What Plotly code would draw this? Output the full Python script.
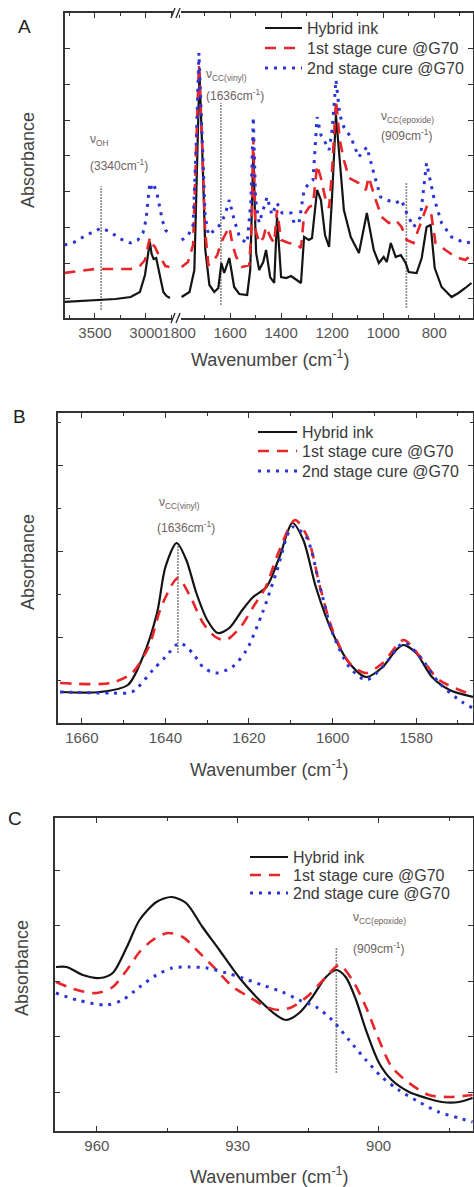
import plotly.graph_objects as go

W, H = 474, 1187

# ---------------- Panel A (full FTIR spectrum, broken x axis) ----------------
A_left_wn_black = [3800, 3650, 3500, 3300, 3150, 3060, 3010, 2985, 2962, 2945, 2925, 2900, 2880, 2860, 2830, 2800, 2765]
A_left_abs_black = [0.16, 0.17, 0.18, 0.19, 0.21, 0.26, 0.43, 0.63, 0.76, 0.64, 0.59, 0.60, 0.50, 0.38, 0.26, 0.22, 0.20]
A_left_wn_red = [3800, 3650, 3500, 3300, 3150, 3060, 3010, 2985, 2962, 2940, 2912, 2880, 2843, 2810, 2770]
A_left_abs_red = [0.45, 0.47, 0.49, 0.49, 0.49, 0.52, 0.58, 0.70, 0.80, 0.74, 0.71, 0.64, 0.58, 0.52, 0.51]
A_left_wn_blue = [3800, 3700, 3600, 3500, 3440, 3350, 3250, 3150, 3080, 3030, 3000, 2980, 2962, 2940, 2920, 2895, 2870, 2840, 2810, 2770]
A_left_abs_blue = [0.73, 0.76, 0.82, 0.87, 0.90, 0.86, 0.79, 0.75, 0.78, 0.85, 0.98, 1.18, 1.35, 1.28, 1.32, 1.26, 1.13, 0.98, 0.88, 0.84]

A_right_wn_black = [1790, 1759, 1740, 1728, 1720, 1709, 1697, 1681, 1662, 1646, 1634, 1623, 1603, 1584, 1564, 1533,
                    1521, 1509, 1498, 1486, 1470, 1459, 1443, 1427, 1416, 1400, 1380, 1361, 1341, 1322, 1310, 1291,
                    1279, 1259, 1244, 1228, 1212, 1201, 1185, 1170, 1154, 1127, 1095, 1064, 1037, 1017, 998, 986,
                    970, 951, 931, 912, 900, 869, 849, 830, 814, 798, 771, 732, 705, 678, 654]
A_right_abs_black = [0.21, 0.26, 0.48, 1.68, 2.46, 1.68, 0.68, 0.33, 0.26, 0.30, 0.55, 0.45, 0.60, 0.31, 0.24, 0.23,
                     0.48, 1.63, 0.65, 0.48, 0.56, 0.68, 0.41, 0.35, 1.01, 0.41, 0.40, 0.42, 0.38, 0.35, 0.81, 0.78,
                     0.80, 1.28, 1.18, 0.83, 0.71, 1.18, 2.03, 1.58, 1.08, 0.81, 0.65, 1.05, 0.68, 0.55, 0.61, 0.56,
                     0.75, 0.61, 0.63, 0.55, 0.46, 0.45, 0.60, 0.91, 0.93, 0.50, 0.31, 0.21, 0.25, 0.30, 0.35]
A_right_wn_red = [1790, 1765, 1745, 1732, 1722, 1710, 1698, 1685, 1670, 1650, 1636, 1620, 1603, 1590, 1576, 1552,
                  1525, 1516, 1509, 1500, 1486, 1470, 1459, 1440, 1427, 1416, 1400, 1370, 1340, 1322, 1310, 1290,
                  1275, 1259, 1244, 1228, 1212, 1200, 1185, 1170, 1154, 1134, 1096, 1068, 1057, 1029, 1006, 978,
                  951, 928, 908, 881, 854, 830, 814, 795, 756, 717, 678, 654]
A_right_abs_red = [0.51, 0.56, 0.73, 1.68, 2.54, 1.78, 0.88, 0.53, 0.55, 0.63, 0.75, 0.83, 0.91, 0.73, 0.61, 0.51,
                   0.53, 0.88, 1.81, 0.88, 0.75, 0.80, 0.91, 0.80, 0.75, 1.08, 0.78, 0.75, 0.74, 0.70, 1.03, 1.11,
                   1.13, 1.53, 1.40, 1.21, 1.10, 1.48, 2.18, 1.78, 1.58, 1.40, 1.35, 1.28, 1.41, 1.18, 1.01, 0.95,
                   0.98, 0.91, 0.78, 0.75, 0.95, 1.11, 1.08, 0.75, 0.68, 0.61, 0.58, 0.63]
A_right_wn_blue = [1790, 1765, 1745, 1732, 1722, 1710, 1698, 1685, 1674, 1650, 1636, 1620, 1603, 1584, 1565, 1552,
                   1533, 1518, 1509, 1500, 1486, 1470, 1455, 1436, 1416, 1396, 1361, 1349, 1330, 1310, 1290, 1275,
                   1259, 1244, 1232, 1212, 1200, 1185, 1170, 1154, 1127, 1096, 1064, 1037, 1010, 986, 951, 928,
                   908, 881, 854, 830, 802, 771, 732, 678, 654]
A_right_abs_blue = [0.78, 0.82, 0.93, 1.78, 2.65, 1.88, 1.03, 0.83, 0.85, 0.90, 0.95, 1.03, 1.18, 0.98, 0.83, 0.78,
                    0.75, 1.18, 2.01, 1.18, 0.95, 1.08, 1.21, 1.03, 1.15, 1.05, 1.05, 0.95, 0.95, 1.28, 1.35, 1.38,
                    2.01, 1.83, 1.78, 1.68, 1.88, 2.38, 2.03, 1.91, 1.81, 1.61, 1.71, 1.45, 1.21, 1.18, 1.15, 1.18,
                    1.05, 0.91, 1.01, 1.55, 1.21, 0.95, 0.81, 0.75, 0.76]

A_marker_wn = [3440, 1636, 909]
A_marker_lo = [0.08, 0.13, 0.10]
A_marker_hi = [1.32, 2.15, 1.35]

# ---------------- Panel B (1665-1566 cm-1) ----------------
B_wn_black = [1665.2, 1655.7, 1649, 1645.4, 1642, 1640, 1637.3, 1635, 1632.6, 1630, 1627.5, 1624.7, 1621.6, 1619,
              1615.8, 1612.7, 1609.6, 1607, 1604, 1600, 1596, 1592, 1588, 1584.8, 1583, 1580, 1576.2, 1572, 1566.4]
B_abs_black = [0.31, 0.31, 0.38, 0.66, 1.10, 1.56, 1.80, 1.63, 1.30, 1.03, 0.90, 0.95, 1.13, 1.26,
               1.36, 1.66, 2.00, 1.83, 1.36, 0.90, 0.60, 0.46, 0.56, 0.73, 0.78, 0.70, 0.46, 0.33, 0.26]
B_wn_red = [1665.2, 1653, 1648, 1644, 1641, 1637, 1634, 1631, 1628, 1625.5, 1622, 1619, 1616, 1613, 1609, 1606,
            1603, 1600, 1596, 1592, 1588, 1583, 1579, 1574.5, 1566.4]
B_abs_red = [0.40, 0.40, 0.50, 0.76, 1.16, 1.45, 1.26, 1.00, 0.86, 0.83, 0.96, 1.16, 1.36, 1.70, 2.03, 1.86,
             1.36, 0.93, 0.60, 0.50, 0.60, 0.83, 0.66, 0.43, 0.28]
B_wn_blue = [1665.2, 1653, 1648, 1643, 1640, 1636.6, 1633.5, 1631, 1628, 1624, 1620.6, 1616.8, 1613.5, 1609.6,
             1606.3, 1603, 1600, 1596, 1592, 1588, 1583, 1579, 1574.5, 1569, 1566.4]
B_abs_blue = [0.31, 0.30, 0.31, 0.53, 0.66, 0.80, 0.70, 0.56, 0.50, 0.56, 0.73, 1.10, 1.50, 1.96,
              1.86, 1.36, 0.90, 0.56, 0.43, 0.56, 0.80, 0.66, 0.40, 0.21, 0.15]
B_marker_wn = [1637]
B_marker_lo = [0.70]
B_marker_hi = [1.80]

# ---------------- Panel C (969-880 cm-1) ----------------
C_wn_black = [968.7, 966.4, 963, 959.4, 956.6, 953.6, 950.9, 947.3, 944.1, 941, 937.5, 933.9, 929.6, 925.4, 921.8,
              919.7, 916.9, 914.1, 911.2, 909, 907, 904.8, 902.7, 899.9, 897.2, 893.5, 889.9, 886.5, 882.9, 880]
C_abs_black = [1.64, 1.64, 1.56, 1.53, 1.58, 1.84, 2.11, 2.29, 2.34, 2.28, 2.04, 1.81, 1.53, 1.31, 1.16,
               1.11, 1.18, 1.34, 1.54, 1.61, 1.54, 1.31, 1.01, 0.68, 0.51, 0.39, 0.33, 0.29, 0.29, 0.33]
C_wn_red = [968.7, 964.2, 960, 956.6, 953.6, 950.9, 948.1, 944.9, 941.7, 938.1, 934.5, 931, 927.5, 923.9, 921.1,
            918.4, 914.8, 911.2, 908.4, 905.6, 902.7, 899.9, 897.2, 893.5, 889.3, 885, 880]
C_abs_red = [1.49, 1.41, 1.38, 1.44, 1.61, 1.79, 1.91, 1.98, 1.94, 1.78, 1.61, 1.44, 1.34, 1.24, 1.21,
             1.24, 1.36, 1.54, 1.66, 1.51, 1.24, 0.91, 0.64, 0.48, 0.36, 0.34, 0.36]
C_wn_blue = [968.7, 964.2, 957.9, 954.5, 950.9, 947.3, 943.9, 940.3, 936.6, 932.4, 929, 924.8, 920.5, 916.9, 913.3,
             909.9, 906.3, 902.7, 899.3, 895.7, 891.4, 887.2, 882.9, 880]
C_abs_blue = [1.38, 1.31, 1.26, 1.31, 1.44, 1.56, 1.63, 1.64, 1.63, 1.58, 1.53, 1.46, 1.39, 1.31, 1.24,
              1.11, 0.91, 0.71, 0.54, 0.41, 0.29, 0.19, 0.13, 0.09]
C_marker_wn = [909]
C_marker_lo = [0.58]
C_marker_hi = [1.83]

series_names = ["Hybrid ink", "1st stage cure @G70", "2nd stage cure @G70"]
A_xticks_left = [3500, 3000]

# ---------------- styles ----------------
FONT = "Liberation Sans, Arial, sans-serif"
BLACK = "#141414"
RED = "#e8262a"
BLUE = "#2b35d6"
GRAY = "#8a8a8a"
LABEL = "#6e6262"
styles = [dict(color=BLACK, width=2.2),
          dict(color=RED, width=2.6, dash="11px,8px"),
          dict(color=BLUE, width=3.0, dash="3px,6px")]


def px(x):
    return x / W


def py(y):
    return 1 - y / H


fig = go.Figure()


def add_series(xs, ys, xa, ya, i, shape="linear"):
    ln = dict(styles[i])
    ln["shape"] = shape
    if shape == "spline":
        ln["smoothing"] = 0.8
    fig.add_trace(go.Scatter(x=xs, y=ys, mode="lines", line=ln, name=series_names[i],
                             xaxis=xa, yaxis=ya, showlegend=False, hoverinfo="skip"))


def add_markers(wns, los, his, xa, ya):
    for w, lo, hi in zip(wns, los, his):
        fig.add_trace(go.Scatter(x=[w, w], y=[lo, hi], mode="lines",
                                 line=dict(color=GRAY, width=1.6, dash="2px,1px"),
                                 xaxis=xa, yaxis=ya, showlegend=False, hoverinfo="skip"))


# Panel A
add_markers(A_marker_wn[:1], A_marker_lo[:1], A_marker_hi[:1], "x", "y")
add_markers(A_marker_wn[1:], A_marker_lo[1:], A_marker_hi[1:], "x2", "y2")
for i, (xs, ys) in enumerate([(A_left_wn_black, A_left_abs_black), (A_left_wn_red, A_left_abs_red),
                              (A_left_wn_blue, A_left_abs_blue)]):
    add_series(xs, ys, "x", "y", i)
for i, (xs, ys) in enumerate([(A_right_wn_black, A_right_abs_black), (A_right_wn_red, A_right_abs_red),
                              (A_right_wn_blue, A_right_abs_blue)]):
    add_series(xs, ys, "x2", "y2", i)

# Panel B
add_markers(B_marker_wn, B_marker_lo, B_marker_hi, "x3", "y3")
for i, (xs, ys) in enumerate([(B_wn_black, B_abs_black), (B_wn_red, B_abs_red), (B_wn_blue, B_abs_blue)]):
    add_series(xs, ys, "x3", "y3", i, "spline")

# Panel C
add_markers(C_marker_wn, C_marker_lo, C_marker_hi, "x4", "y4")
for i, (xs, ys) in enumerate([(C_wn_black, C_abs_black), (C_wn_red, C_abs_red), (C_wn_blue, C_abs_blue)]):
    add_series(xs, ys, "x4", "y4", i, "spline")

tickfont = dict(family=FONT, size=15, color="#555555")
axline = dict(showline=True, linecolor="#333333", linewidth=1.6, showgrid=False, zeroline=False,
              ticks="inside", tickcolor="#333333", ticklen=5, tickwidth=1.3, tickfont=tickfont)

domA = [py(318), py(13)]
domB = [py(723), py(413)]
domC = [py(1131), py(818)]

fig.update_layout(
    width=W, height=H, margin=dict(l=0, r=0, t=0, b=0, autoexpand=False),
    paper_bgcolor="white", plot_bgcolor="white", showlegend=False,
    font=dict(family=FONT, color="#333333"),
    xaxis=dict(domain=[px(65), px(177)], anchor="y", range=[3794, 2696], tickvals=A_xticks_left,
               mirror="ticks", minor=dict(ticks="inside", dtick=250, tick0=0, ticklen=3, tickcolor="#333333"),
               **axline),
    xaxis2=dict(domain=[px(177), px(473)], anchor="y2", range=[1808, 648], dtick=200, tick0=0,
                mirror="ticks", minor=dict(ticks="inside", dtick=100, tick0=0, ticklen=3, tickcolor="#333333"),
                **axline),
    yaxis=dict(domain=domA, anchor="x", range=[0, 3.05], tick0=0.55, dtick=0.357, showticklabels=False,
               **axline),
    yaxis2=dict(domain=domA, anchor="x2", range=[0, 3.05], side="right", tick0=0.55, dtick=0.357,
                showticklabels=False, **axline),
    xaxis3=dict(domain=[px(58), px(473)], anchor="y3", range=[1665.7, 1566.4], dtick=20, tick0=0,
                mirror="ticks", minor=dict(ticks="inside", dtick=10, tick0=0, ticklen=3, tickcolor="#333333"),
                **axline),
    yaxis3=dict(domain=domB, anchor="x3", range=[0, 3.10], tick0=0.86, dtick=0.86, showticklabels=False,
                mirror="ticks", minor=dict(ticks="inside", dtick=0.43, tick0=0.86, ticklen=3, tickcolor="#333333"),
                **axline),
    xaxis4=dict(domain=[px(55), px(473)], anchor="y4", range=[968.9, 879.9], dtick=30, tick0=0,
                mirror="ticks", minor=dict(ticks="inside", dtick=15, tick0=0, ticklen=3, tickcolor="#333333"),
                **axline),
    yaxis4=dict(domain=domC, anchor="x4", range=[0, 3.13], tick0=0.39, dtick=0.555, showticklabels=False,
                mirror="ticks", **axline),
)

ann = []
shapes = []

# hand-placed legends (line sample + label) for each panel
legfont = dict(family=FONT, size=16, color="#3a3a3a")
for x0, x1, rows in [(265, 302, [28, 48, 68]), (258, 297, [432, 451, 471]), (250, 288, [857, 875, 893])]:
    for i, yr in enumerate(rows):
        shapes.append(dict(type="line", xref="paper", yref="paper", x0=px(x0), x1=px(x1), y0=py(yr), y1=py(yr),
                           line=dict(color=styles[i]["color"], width=styles[i]["width"],
                                     dash=styles[i].get("dash", "solid"))))
        ann.append(dict(text=series_names[i], x=px(x1 + 3), y=py(yr), xref="paper", yref="paper",
                        xanchor="left", yanchor="middle", showarrow=False, font=legfont))

# panel letters
for t, x, y in [("A", 24, 26), ("B", 19, 416), ("C", 15, 818)]:
    ann.append(dict(text=t, x=px(x), y=py(y), xref="paper", yref="paper", showarrow=False,
                    xanchor="center", yanchor="middle",
                    font=dict(family=FONT, size=19, color="#222222")))
# y titles
for x, y in [(28, 160), (28, 562), (22, 968)]:
    ann.append(dict(text="Absorbance", x=px(x), y=py(y), xref="paper", yref="paper", showarrow=False,
                    xanchor="center", yanchor="middle",
                    textangle=-90, font=dict(family=FONT, size=18, color="#444444")))
# x titles
for x, y in [(270, 358), (269, 768), (269, 1175)]:
    ann.append(dict(text="Wavenumber (cm<sup>-1</sup>)", x=px(x), y=py(y), xref="paper", yref="paper",
                    xanchor="center", yanchor="middle",
                    showarrow=False, font=dict(family=FONT, size=18, color="#444444")))

lab = dict(family=FONT, size=12, color=LABEL)
peak_labels = [
    ("ν<sub>OH</sub>", 3569, 1.78, "x", "y"),
    ("(3340cm<sup>-1</sup>)", 3569, 1.53, "x", "y"),
    ("ν<sub>CC(vinyl)</sub>", 1701, 2.43, "x2", "y2"),
    ("(1636cm<sup>-1</sup>)", 1701, 2.23, "x2", "y2"),
    ("ν<sub>CC(epoxide)</sub>", 1017, 2.01, "x2", "y2"),
    ("(909cm<sup>-1</sup>)", 1017, 1.83, "x2", "y2"),
    ("ν<sub>CC(vinyl)</sub>", 1642.1, 2.20, "x3", "y3"),
    ("(1636cm<sup>-1</sup>)", 1642.6, 1.96, "x3", "y3"),
    ("ν<sub>CC(epoxide)</sub>", 905.9, 2.13, "x4", "y4"),
    ("(909cm<sup>-1</sup>)", 905.9, 1.83, "x4", "y4"),
]
for t, x, y, xr, yr in peak_labels:
    ann.append(dict(text=t, x=x, y=y, xref=xr, yref=yr, showarrow=False, xanchor="left", yanchor="middle",
                    font=lab))

# axis-break marks on panel A
for yb in [13, 318]:
    shapes.append(dict(type="rect", xref="paper", yref="paper", x0=px(173), x1=px(181),
                       y0=py(yb + 2), y1=py(yb - 2), fillcolor="white", line=dict(width=0), layer="above"))
    for dx in [-3, 2]:
        shapes.append(dict(type="line", xref="paper", yref="paper", x0=px(174 + dx), y0=py(yb + 5),
                           x1=px(178 + dx), y1=py(yb - 5), line=dict(color="#333333", width=1.4), layer="above"))

fig.update_layout(annotations=ann, shapes=shapes)

fig.write_html("out.html", config={"displayModeBar": False},
               post_script="document.body.style.margin='0px';document.body.style.overflow='hidden';")
